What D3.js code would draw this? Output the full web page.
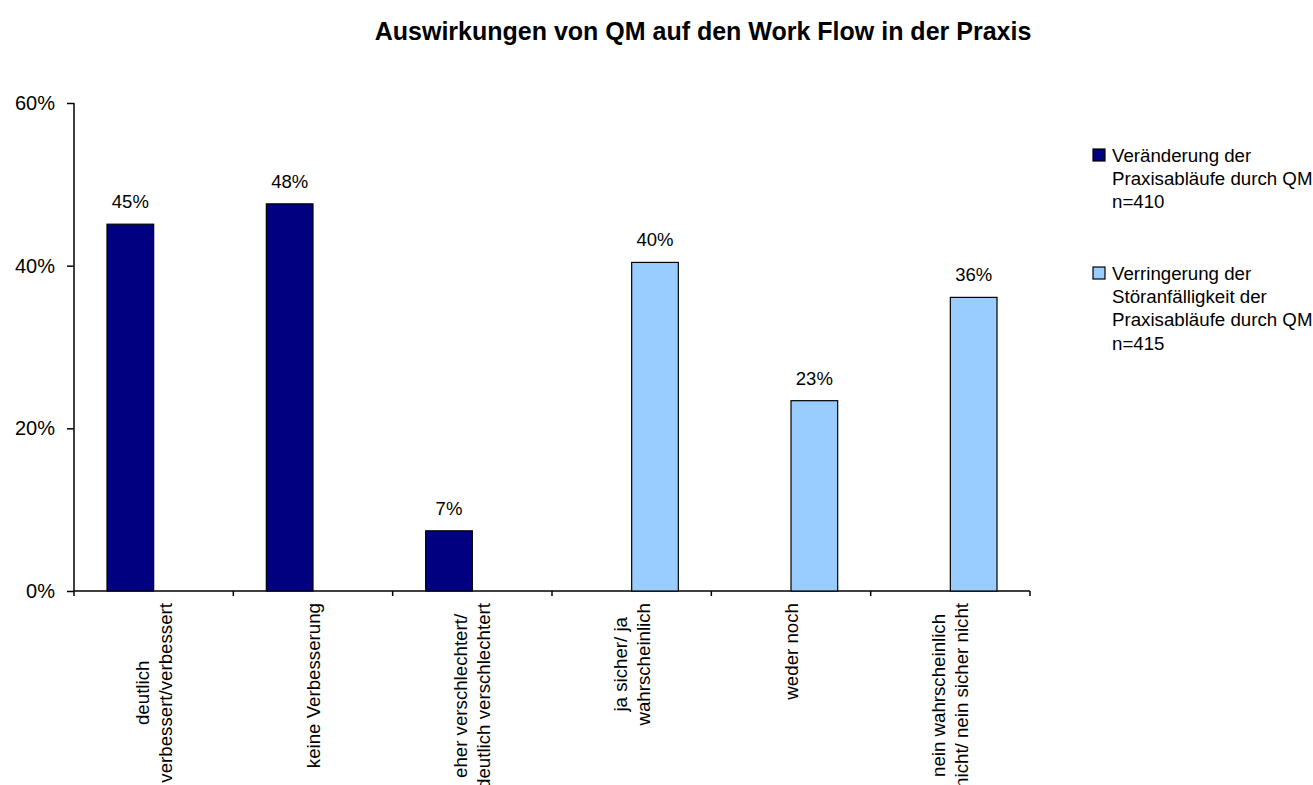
<!DOCTYPE html>
<html>
<head>
<meta charset="utf-8">
<script src="https://cdn.jsdelivr.net/npm/d3@7"></script>
<style>
  body { margin:0; background:#fff; }
  text { font-family: "Liberation Sans", Arial, sans-serif; fill:#000; }
</style>
</head>
<body>
<div id="canvas"></div>
<script>
// data
var categories = [
    ['deutlich', 'verbessert/verbessert'],
    ['keine Verbesserung'],
    ['eher verschlechtert/', 'deutlich verschlechtert'],
    ['ja sicher/ ja', 'wahrscheinlich'],
    ['weder noch'],
    ['nein wahrscheinlich', 'nicht/ nein sicher nicht']
];
var seriesNames = ['s1', 's2'];
var legendLabels = [
    ['Veränderung der', 'Praxisabläufe durch QM', 'n=410'],
    ['Verringerung der', 'Störanfälligkeit der', 'Praxisabläufe durch QM', 'n=415']
];
var values1 = [0.451, 0.476, 0.074, null, null, null];
var values2 = [null, null, null, 0.404, 0.234, 0.361];
var yTicks = [0, 0.2, 0.4, 0.6];
var colors = ['#000080', '#99CCFF'];
var title = 'Auswirkungen von QM auf den Work Flow in der Praxis';

var W = 1313, H = 785;
var m = {t:103, l:74, r:283, b:194};

var svg = d3.select('#canvas').append('svg')
    .attr('width', W).attr('height', H);

svg.append('text')
    .attr('x', 703).attr('y', 40)
    .attr('text-anchor', 'middle')
    .style('font-size', '25px')
    .style('font-weight', 'bold')
    .text(title);

var scaleX = d3.scaleBand()
    .domain(d3.range(categories.length))
    .range([m.l, W - m.r])
    .padding(0);
var scaleX1 = d3.scaleBand()
    .domain(seriesNames)
    .range([0, scaleX.bandwidth()])
    .paddingInner(0)
    .paddingOuter(0.707);
var scaleY = d3.scaleLinear()
    .domain([0, 0.6])
    .range([H - m.b, m.t]);

// y axis
var axisY = d3.axisLeft(scaleY)
    .tickValues(yTicks)
    .tickFormat(d3.format('.0%'))
    .tickSize(7)
    .tickPadding(12);
var gy = svg.append('g')
    .attr('transform', 'translate(' + m.l + ',0)')
    .call(axisY);
gy.selectAll('text').style('font-size', '20px');
gy.selectAll('line, path').attr('stroke', '#000').attr('stroke-width', 1.5);
gy.select('.domain').attr('d', 'M0,' + scaleY(0.6) + 'V' + scaleY(0));

// x axis: line + ticks at category boundaries
var y0 = scaleY(0);
svg.append('line')
    .attr('x1', m.l).attr('x2', W - m.r)
    .attr('y1', y0).attr('y2', y0)
    .attr('stroke', '#000').attr('stroke-width', 1.5);
svg.selectAll('.xtick')
    .data(d3.range(categories.length + 1))
    .enter().append('line')
    .attr('class', 'xtick')
    .attr('x1', function(i){ return m.l + i * scaleX.step(); })
    .attr('x2', function(i){ return m.l + i * scaleX.step(); })
    .attr('y1', y0).attr('y2', y0 + 5)
    .attr('stroke', '#000').attr('stroke-width', 1.5);

// bars
var rows = [];
categories.forEach(function(c, i){
    if (values1[i] != null) rows.push({i:i, s:'s1', v:values1[i], c:colors[0]});
    if (values2[i] != null) rows.push({i:i, s:'s2', v:values2[i], c:colors[1]});
});

svg.selectAll('.bar')
    .data(rows)
    .enter().append('rect')
    .attr('class', 'bar')
    .attr('x', function(d){ return scaleX(d.i) + scaleX1(d.s); })
    .attr('y', function(d){ return scaleY(d.v); })
    .attr('width', scaleX1.bandwidth())
    .attr('height', function(d){ return y0 - scaleY(d.v); })
    .attr('fill', function(d){ return d.c; })
    .attr('stroke', '#000')
    .attr('stroke-width', 1.2);

svg.selectAll('.vlabel')
    .data(rows)
    .enter().append('text')
    .attr('class', 'vlabel')
    .attr('x', function(d){ return scaleX(d.i) + scaleX1(d.s) + scaleX1.bandwidth() / 2; })
    .attr('y', function(d){ return scaleY(d.v) - 16; })
    .attr('text-anchor', 'middle')
    .style('font-size', '18.5px')
    .text(function(d){ return d3.format('.0%')(d.v); });

// category labels, rotated, lines centred on each other
categories.forEach(function(lines, i){
    var cx = scaleX(i) + scaleX.bandwidth() / 2;
    var g = svg.append('g');
    var texts = lines.map(function(l, k){
        return g.append('text')
            .attr('transform', 'rotate(-90)')
            .attr('text-anchor', 'middle')
            .attr('dy', '0.35em')
            .style('font-size', '18.7px')
            .attr('y', cx + (k - (lines.length - 1) / 2) * 23)
            .text(l);
    });
    var maxLen = d3.max(texts, function(t){ return t.node().getComputedTextLength(); });
    texts.forEach(function(t){ t.attr('x', -(y0 + 12 + maxLen / 2)); });
});

// legend
var legendTop = [149, 267];
legendLabels.forEach(function(lines, k){
    svg.append('rect')
        .attr('x', 1093).attr('y', legendTop[k])
        .attr('width', 12).attr('height', 12)
        .attr('fill', colors[k])
        .attr('stroke', '#000').attr('stroke-width', 1.2);
    lines.forEach(function(l, j){
        svg.append('text')
            .attr('x', 1112)
            .attr('y', legendTop[k] + 12.5 + j * 23.4)
            .style('font-size', '18.7px')
            .text(l);
    });
});
</script>
</body>
</html>
